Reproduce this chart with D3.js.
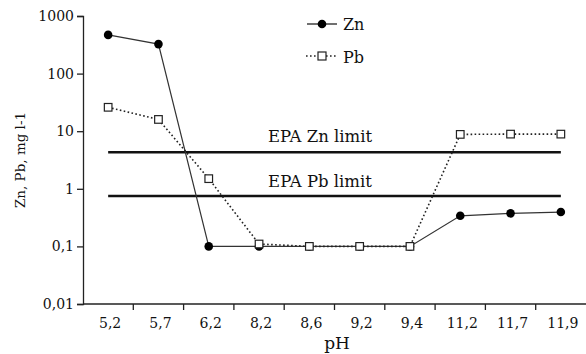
<!DOCTYPE html>
<html>
<head>
<meta charset="utf-8">
<script src="https://cdn.jsdelivr.net/npm/d3@7"></script>
<style>
  body { margin: 0; background: #fff; }
  svg text { font-family: "DejaVu Serif", "Times New Roman", Times, serif; fill: #111; }
</style>
</head>
<body>
<script>
//Data
var phLabels = ["5,2", "5,7", "6,2", "8,2", "8,6", "9,2", "9,4", "11,2", "11,7", "11,9"];
var znValues = [470, 325, 0.1, 0.1, 0.1, 0.1, 0.1, 0.34, 0.375, 0.395];
var pbValues = [26, 16, 1.5, 0.11, 0.1, 0.1, 0.1, 8.8, 8.9, 8.9];
var yTicks = [0.01, 0.1, 1, 10, 100, 1000];
var yTickLabels = ["0,01", "0,1", "1", "10", "100", "1000"];
var epaZn = 4.3;
var epaPb = 0.75;

var fontFam = '"DejaVu Serif", "Times New Roman", Times, serif';

//SVG size
var W = 586, H = 354;
var margin = {top: 16, right: 0, bottom: 50, left: 83};

var svg = d3.select('body')
  .append('svg')
  .attr('width', W)
  .attr('height', H)
  .attr('font-family', fontFam);

//Scales
var x = d3.scaleBand()
  .domain(phLabels)
  .range([margin.left, W - margin.right])
  .padding(0);

var y = d3.scaleLog()
  .domain([0.01, 1000])
  .range([H - margin.bottom, margin.top]);

function cx(i) { return x(phLabels[i]) + x.bandwidth() / 2; }

//Y axis
var yAxis = d3.axisLeft(y)
  .tickValues(yTicks)
  .tickFormat(function (d, i) { return yTickLabels[i]; })
  .tickSize(6)
  .tickPadding(3);

var gy = svg.append('g')
  .attr('transform', 'translate(' + margin.left + ',0)')
  .call(yAxis)
  .attr('font-family', fontFam);
gy.select('.domain').attr('stroke', '#222').attr('stroke-width', 1.3);
gy.selectAll('.tick line').attr('stroke', '#222').attr('stroke-width', 1.3);
gy.selectAll('.tick text')
  .attr('font-size', '14px')
  .attr('fill', '#111');

//X axis, ticks between categories
var gx = svg.append('g')
  .attr('transform', 'translate(0,' + (H - margin.bottom) + ')');
gx.append('line')
  .attr('x1', margin.left).attr('x2', W - margin.right)
  .attr('stroke', '#222').attr('stroke-width', 1.3);
gx.selectAll('line.tk')
  .data(phLabels.slice(1))
  .enter()
  .append('line')
  .attr('class', 'tk')
  .attr('x1', function (d) { return x(d); })
  .attr('x2', function (d) { return x(d); })
  .attr('y1', 0).attr('y2', 6)
  .attr('stroke', '#222').attr('stroke-width', 1.3);
gx.selectAll('text')
  .data(phLabels)
  .enter()
  .append('text')
  .attr('x', function (d) { return x(d) + x.bandwidth() / 2 + 2; })
  .attr('y', 24)
  .attr('text-anchor', 'middle')
  .attr('font-size', '14px')
  .text(function (d) { return d; });

//Axis titles
svg.append('text')
  .attr('x', 337).attr('y', 349)
  .attr('text-anchor', 'middle')
  .attr('font-size', '17px')
  .text('pH');

svg.append('text')
  .attr('transform', 'translate(25,160) rotate(-90)')
  .attr('text-anchor', 'middle')
  .attr('font-size', '13.5px')
  .text('Zn, Pb, mg l-1');

//EPA limits
var first = cx(0), last = cx(phLabels.length - 1);
[epaZn, epaPb].forEach(function (v) {
  svg.append('line')
    .attr('x1', first).attr('x2', last)
    .attr('y1', y(v)).attr('y2', y(v))
    .attr('stroke', '#111').attr('stroke-width', 2.5);
});
svg.append('text')
  .attr('x', 320).attr('y', y(epaZn) - 10)
  .attr('text-anchor', 'middle')
  .attr('font-size', '16.5px')
  .text('EPA Zn limit');
svg.append('text')
  .attr('x', 320).attr('y', y(epaPb) - 9)
  .attr('text-anchor', 'middle')
  .attr('font-size', '16.5px')
  .text('EPA Pb limit');

//Series lines
var line = d3.line()
  .x(function (d, i) { return cx(i); })
  .y(function (d) { return y(d); });

svg.append('path')
  .datum(znValues)
  .attr('d', line)
  .attr('fill', 'none')
  .attr('stroke', '#333')
  .attr('stroke-width', 1.2);

svg.append('path')
  .datum(pbValues)
  .attr('d', line)
  .attr('fill', 'none')
  .attr('stroke', '#222')
  .attr('stroke-width', 1.6)
  .attr('stroke-dasharray', '1.6,2.4');

//Markers
svg.selectAll('circle.zn')
  .data(znValues)
  .enter()
  .append('circle')
  .attr('class', 'zn')
  .attr('cx', function (d, i) { return cx(i); })
  .attr('cy', function (d) { return y(d); })
  .attr('r', 4.3)
  .attr('fill', '#000');

svg.selectAll('rect.pb')
  .data(pbValues)
  .enter()
  .append('rect')
  .attr('class', 'pb')
  .attr('x', function (d, i) { return cx(i) - 3.8; })
  .attr('y', function (d) { return y(d) - 3.8; })
  .attr('width', 7.6).attr('height', 7.6)
  .attr('fill', '#fff')
  .attr('stroke', '#222')
  .attr('stroke-width', 1.2);

//Legend
var leg = svg.append('g');
leg.append('line')
  .attr('x1', 307).attr('x2', 337).attr('y1', 24).attr('y2', 24)
  .attr('stroke', '#222').attr('stroke-width', 1.3);
leg.append('circle')
  .attr('cx', 322).attr('cy', 24).attr('r', 4.3).attr('fill', '#000');
leg.append('text')
  .attr('x', 343).attr('y', 30)
  .attr('font-size', '16px')
  .text('Zn');
leg.append('line')
  .attr('x1', 306).attr('x2', 337).attr('y1', 56).attr('y2', 56)
  .attr('stroke', '#222').attr('stroke-width', 1.4)
  .attr('stroke-dasharray', '1.6,2.4');
leg.append('rect')
  .attr('x', 318).attr('y', 52).attr('width', 8).attr('height', 8)
  .attr('fill', '#fff').attr('stroke', '#222').attr('stroke-width', 1.2);
leg.append('text')
  .attr('x', 343).attr('y', 63)
  .attr('font-size', '16px')
  .text('Pb');
</script>
</body>
</html>
